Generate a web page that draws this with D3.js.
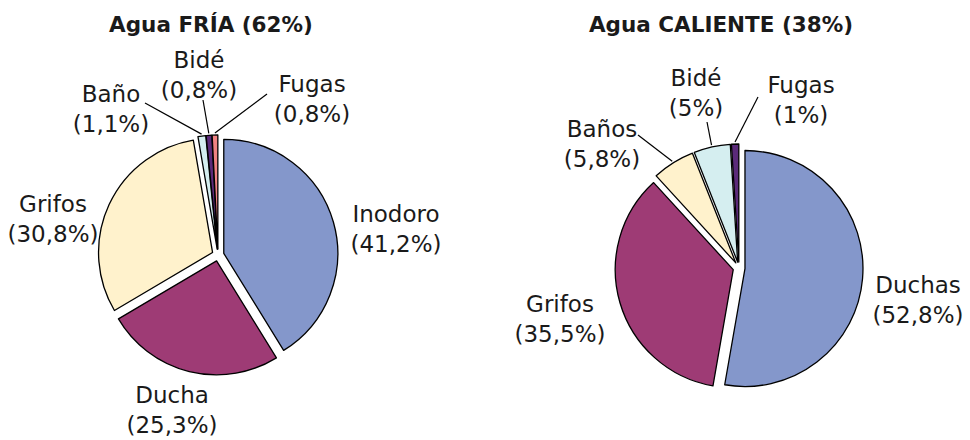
<!DOCTYPE html>
<html>
<head>
<meta charset="utf-8">
<script src="https://cdn.jsdelivr.net/npm/d3@7"></script>
<style>
  html, body { margin: 0; padding: 0; background: #fff; }
  svg text { font-family: "DejaVu Sans", sans-serif; fill: #1a1a1a; }
</style>
</head>
<body>
<svg id="chart" width="970" height="440"></svg>
<script>
// data
var friaTitle = "Agua FRÍA (62%)";
var friaNames = ["Inodoro", "Ducha", "Grifos", "Baño", "Bidé", "Fugas"];
var friaValues = [41.2, 25.3, 30.8, 1.1, 0.8, 0.8];
var friaLabels = ["(41,2%)", "(25,3%)", "(30,8%)", "(1,1%)", "(0,8%)", "(0,8%)"];

var calTitle = "Agua CALIENTE (38%)";
var calNames = ["Duchas", "Grifos", "Baños", "Bidé", "Fugas"];
var calValues = [52.8, 35.5, 5.8, 5, 1];
var calLabels = ["(52,8%)", "(35,5%)", "(5,8%)", "(5%)", "(1%)"];

var colors = ["#8497cb", "#9e3b75", "#fff2cc", "#d5eef0", "#5b2a7a", "#f08282"];

// layout: label anchors relative to pie centre, leader start relative to label
var friaLayout = {
    cx: 218, cy: 255, r: 114, titleX: 211,
    labelPos: [[178, -33], [-46, 148], [-165, -43], [-107, -153], [-19, -187], [94, -163]],
    leader: [null, null, null, [34, 1], [4, 32], [-45, 2]]
};
var calLayout = {
    cx: 739, cy: 268, r: 118, titleX: 721,
    labelPos: [[179, 25], [-179, 44], [-137, -131], [-43, -182], [62, -175]],
    leader: [null, null, [36, -2], [11, 36], [-43, 4]]
};

var explode = 6;
var svg = d3.select("#chart");

function drawPie(title, names, values, labels, lay) {
    var pie = d3.pie().sort(null).value(function (d) { return d; });
    var arc = d3.arc().innerRadius(0).outerRadius(lay.r);
    var arcs = pie(values);

    svg.append("text")
        .attr("x", lay.titleX)
        .attr("y", 32)
        .attr("text-anchor", "middle")
        .style("font-size", "21.5px")
        .style("font-weight", "bold")
        .text(title);

    var g = svg.append("g").attr("transform", "translate(" + lay.cx + "," + lay.cy + ")");

    function dir(d) {
        var mid = (d.startAngle + d.endAngle) / 2;
        return [Math.sin(mid), -Math.cos(mid)];
    }

    g.selectAll("path")
        .data(arcs)
        .enter().append("path")
        .attr("d", arc)
        .attr("transform", function (d) {
            var v = dir(d);
            return "translate(" + v[0] * explode + "," + v[1] * explode + ")";
        })
        .style("fill", function (d, i) { return colors[i]; })
        .style("stroke", "#000")
        .style("stroke-width", 1.3)
        .style("stroke-linejoin", "round");

    // leader lines for the small slices
    arcs.forEach(function (d, i) {
        var off = lay.leader[i];
        if (!off) return;
        var v = dir(d);
        var p = lay.labelPos[i];
        var rr = lay.r + explode + 2;
        g.append("line")
            .attr("x1", p[0] + off[0])
            .attr("y1", p[1] + off[1])
            .attr("x2", v[0] * rr)
            .attr("y2", v[1] * rr)
            .style("stroke", "#000")
            .style("stroke-width", 1.2);
    });

    var lg = g.selectAll("text.lbl")
        .data(arcs)
        .enter().append("text")
        .attr("class", "lbl")
        .attr("text-anchor", "middle")
        .attr("transform", function (d, i) {
            return "translate(" + lay.labelPos[i][0] + "," + lay.labelPos[i][1] + ")";
        })
        .style("font-size", "23px");
    lg.append("tspan").attr("x", 0).attr("y", 0).text(function (d, i) { return names[i]; });
    lg.append("tspan").attr("x", 0).attr("y", 30).text(function (d, i) { return labels[i]; });
}

svg.append("rect").attr("width", 970).attr("height", 440).attr("fill", "#fff");
drawPie(friaTitle, friaNames, friaValues, friaLabels, friaLayout);
drawPie(calTitle, calNames, calValues, calLabels, calLayout);
</script>
</body>
</html>
